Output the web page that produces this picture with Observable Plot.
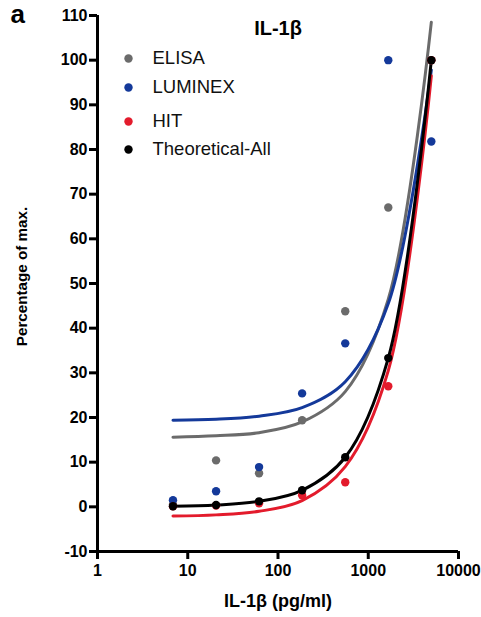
<!DOCTYPE html>
<html>
<head>
<meta charset="utf-8">
<script src="https://cdn.jsdelivr.net/npm/d3@7"></script>
<script src="https://cdn.jsdelivr.net/npm/@observablehq/plot@0.6"></script>
<style>
  html, body { margin: 0; padding: 0; background: #fff; }
  #chart svg { display: block; font-family: "Liberation Sans", Arial, Helvetica, sans-serif; }
</style>
</head>
<body>
<div id="chart"></div>
<script>
// Concentrations (pg/ml), 3-fold dilution series
const conc = [6.86, 20.6, 61.7, 185, 556, 1667, 5000];
// Measured percentage of max. per method
const elisa       = [0.5, 10.4, 7.5, 19.4, 43.8, 67.0, 100];
const luminex     = [1.5, 3.5, 8.9, 25.4, 36.6, 100, 81.8];
const hit         = [0.1, 0.3, 0.8, 2.6, 5.5, 27.0, 100];
const theoretical = [0.14, 0.41, 1.23, 3.7, 11.1, 33.3, 100];
// Fitted curves, read at the same concentrations
const elisaFit       = [15.6, 15.9, 16.6, 19.0, 25.8, 46.5, 108.5];
const luminexFit     = [19.4, 19.6, 20.3, 22.2, 28.0, 45.5, 97.8];
const hitFit         = [-2.07, -1.8, -1.0, 1.4, 9.0, 30.5, 96.5];
const theoreticalFit = [0.14, 0.41, 1.23, 3.7, 11.1, 33.3, 100];
// Ticks and labels
const xTicks = [1, 10, 100, 1000, 10000];
const yTicks = [-10, 0, 10, 20, 30, 40, 50, 60, 70, 80, 90, 100, 110];
const seriesNames = ["ELISA", "LUMINEX", "HIT", "Theoretical-All"];
const colors = ["#6b6b6b", "#14399a", "#e31b2c", "#000000"];
const titleText = "IL-1β";
const xLabel = "IL-1β (pg/ml)";
const yLabel = "Percentage of max.";
const panelLabel = "a";

const rows = (ys) => conc.map((c, i) => ({x: c, y: ys[i]}));
const measured = [elisa, luminex, hit, theoretical];
const fits = [elisaFit, luminexFit, hitFit, theoreticalFit];

const legendDy = [43, 72, 106, 134];

const marks = [];
fits.forEach((f, i) => marks.push(Plot.line(rows(f), {x: "x", y: "y", stroke: colors[i], strokeWidth: 3, curve: "catmull-rom"})));
measured.forEach((m, i) => marks.push(Plot.dot(rows(m), {x: "x", y: "y", fill: colors[i], r: 4.2})));

const legendMarks = [];
seriesNames.forEach((name, i) => {
  legendMarks.push(Plot.dot([name], {frameAnchor: "top-left", dx: 31, dy: legendDy[i], fill: colors[i], r: 4.2}));
  legendMarks.push(Plot.text([name], {text: d => d, frameAnchor: "top-left", dx: 55, dy: legendDy[i], textAnchor: "start", lineAnchor: "middle", fontSize: 18.5, fill: "#111"}));
});

const chart = Plot.plot({
  width: 481,
  height: 617,
  marginLeft: 97,
  marginRight: 23,
  marginTop: 15,
  marginBottom: 66,
  style: {fontFamily: "Liberation Sans, Arial, sans-serif", background: "#fff"},
  x: {type: "log", domain: [1, 10000]},
  y: {domain: [-10, 110]},
  marks: [
    ...marks,
    Plot.ruleX([1], {stroke: "#000", strokeWidth: 3}),
    Plot.ruleY([-10], {stroke: "#000", strokeWidth: 3}),
    Plot.axisX({ticks: xTicks, tickFormat: d => String(d), tickSize: 8, tickPadding: 5, strokeWidth: 3, fontSize: 16, fontWeight: "bold", fill: "#000", label: null}),
    Plot.axisY({ticks: yTicks, tickFormat: d => String(d), tickSize: 8, tickPadding: 2, strokeWidth: 3, fontSize: 16, fontWeight: "bold", fill: "#000", label: null}),
    ...legendMarks,
    Plot.text([titleText], {text: d => d, frameAnchor: "top", dy: 13, lineAnchor: "middle", textAnchor: "middle", fontSize: 20, fontWeight: "bold", fill: "#000"}),
    Plot.text([panelLabel], {text: d => d, frameAnchor: "top-left", dx: -87, dy: -1, lineAnchor: "middle", textAnchor: "start", fontSize: 26, fontWeight: "bold", fill: "#000"}),
    Plot.text([yLabel], {text: d => d, frameAnchor: "left", dx: -75, dy: -7, rotate: -90, textAnchor: "middle", lineAnchor: "middle", fontSize: 15.2, fontWeight: "bold", fill: "#000"}),
    Plot.text([xLabel], {text: d => d, frameAnchor: "bottom", dy: 50, lineAnchor: "middle", textAnchor: "middle", fontSize: 18, fontWeight: "bold", fill: "#000"})
  ]
});
document.getElementById("chart").appendChild(chart);
</script>
</body>
</html>
